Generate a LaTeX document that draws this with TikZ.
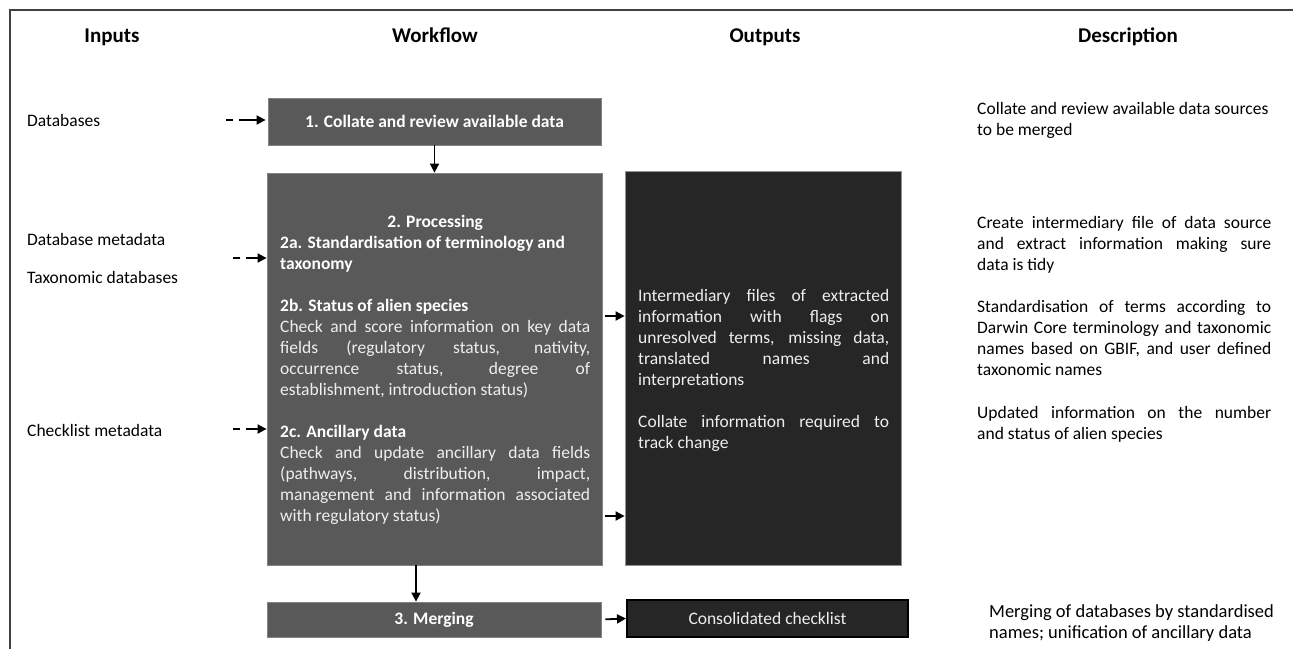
\documentclass[tikz,border=0pt]{standalone}
\usepackage{fontspec}
\setmainfont{Carlito}
\usetikzlibrary{arrows.meta}
\definecolor{boxgray}{HTML}{595959}
\definecolor{boxdark}{HTML}{262626}
\definecolor{framec}{HTML}{404040}
\definecolor{boxtext}{HTML}{EEEEEE}
\newcommand\fsz{\fontsize{17.5}{21}\selectfont}
\newcommand\jl[2]{\makebox[#1][s]{#2}}
\begin{document}
\begin{tikzpicture}[x=1pt,y=-1pt,
  hdr/.style={font=\fontsize{21}{25}\selectfont\bfseries, anchor=base, inner sep=0},
  inlabel/.style={font=\fsz, anchor=west, inner sep=0},
  wbox/.style={fill=boxgray, draw=boxgray!75!white, line width=0.8pt, inner sep=0, text=white},
  obox/.style={fill=boxdark, draw=boxdark!50!white, line width=0.8pt, inner sep=0, text=boxtext},
  para/.style={font=\fsz, align=left, inner sep=0, anchor=north west},
  flow/.style={-{Triangle[length=9pt,width=9pt]}, line width=1.8pt},
  inflow/.style={flow, dash pattern=on 7pt off 6pt on 60pt}]
\useasboundingbox (0,0) rectangle (1293,649);
\draw[framec, line width=2pt] (9.5,649) -- (9.5,10) -- (1293,10);

% headers
\node[hdr] (hin) at (112,42) {Inputs};
\node[hdr] (hwf) at (435,42) {Workflow};
\node[hdr] (hout) at (765,42) {Outputs};
\node[hdr] (hdesc) at (1128,42) {Description};

% inputs
\node[inlabel] (idb) at (27,120) {Databases};
\node[inlabel] (idbm) at (27,239) {Database metadata};
\node[inlabel] (itax) at (27,277) {Taxonomic databases};
\node[inlabel] (ichk) at (27,430) {Checklist metadata};

% workflow boxes
\node[wbox, minimum width=333pt, minimum height=47pt, font=\fsz\bfseries] (b1) at (434.5,121.5) {1. Collate and review available data};
\node[wbox, minimum width=335pt, minimum height=392pt] (b2) at (434.5,369) {};
\node[wbox, minimum width=334pt, minimum height=35pt, font=\fsz\bfseries] (b3) at (434,619.5) {3. Merging};

% outputs boxes
\node[obox, minimum width=276pt, minimum height=394pt] (out) at (763,368) {};
\node[fill=boxdark, draw=black, line width=2pt, inner sep=0, minimum width=281pt, minimum height=37pt, text=boxtext, font=\fsz] (cons) at (767.5,618.5) {Consolidated checklist};

% processing text
\node[para, text=boxtext] (t2) at (280,215) {%
\makebox[310pt]{\color{white}\bfseries 2. Processing}\\
{\color{white}\bfseries 2a. Standardisation of terminology and}\\
{\color{white}\bfseries taxonomy}\\[21pt]
{\color{white}\bfseries 2b. Status of alien species}\\
\jl{310pt}{Check and score information on key data}\\
\jl{310pt}{fields (regulatory status, nativity,}\\
\jl{310pt}{occurrence status, degree of}\\
establishment, introduction status)\\[21pt]
{\color{white}\bfseries 2c. Ancillary data}\\
\jl{310pt}{Check and update ancillary data fields}\\
\jl{310pt}{(pathways, distribution, impact,}\\
\jl{310pt}{management and information associated}\\
with regulatory status)};

% outputs text
\node[para, text=boxtext] (tout) at (638,289) {%
\jl{251pt}{Intermediary files of extracted}\\
\jl{251pt}{information with flags on}\\
\jl{251pt}{unresolved terms, missing data,}\\
\jl{251pt}{translated names and}\\
interpretations\\[21pt]
\jl{251pt}{Collate information required to}\\
track change};

% descriptions
\node[para] (d1) at (977,102) {Collate and review available data sources\\to be merged};
\node[para] (d2) at (977,216) {%
\jl{294pt}{Create intermediary file of data source}\\
\jl{294pt}{and extract information making sure}\\
data is tidy};
\node[para] (d3) at (977,300) {%
\jl{294pt}{Standardisation of terms according to}\\
\jl{294pt}{Darwin Core terminology and taxonomic}\\
\jl{294pt}{names based on GBIF, and user defined}\\
taxonomic names};
\node[para] (d4) at (977,406) {%
\jl{294pt}{Updated information on the number}\\
and status of alien species};
\node[para, font=\fontsize{18.5}{21}\selectfont] (d5) at (989,604) {Merging of databases by standardised\\names; unification of ancillary data};

% connectors
\coordinate (cm) at (416,0);
\coordinate (co1) at (0,316);
\coordinate (co2) at (0,516);
\coordinate (ci1) at (226,120);
\coordinate (ci2) at (233,258);
\coordinate (ci3) at (233,429);
\draw[flow] (b1.south) -- (b2.north);
\draw[flow] (b2.south -| cm) -- (b3.north -| cm);
\draw[flow, shorten <=3pt] (b2.east |- co1) -- (out.west |- co1);
\draw[flow, shorten <=3pt] (b2.east |- co2) -- (out.west |- co2);
\draw[flow, shorten <=4pt] (b3.east) -- (cons.west);
\draw[inflow, shorten >=2pt] (ci1) -- (ci1 -| b1.west);
\draw[inflow] (ci2) -- (ci2 -| b2.west);
\draw[inflow] (ci3) -- (ci3 -| b2.west);
\end{tikzpicture}
\end{document}
